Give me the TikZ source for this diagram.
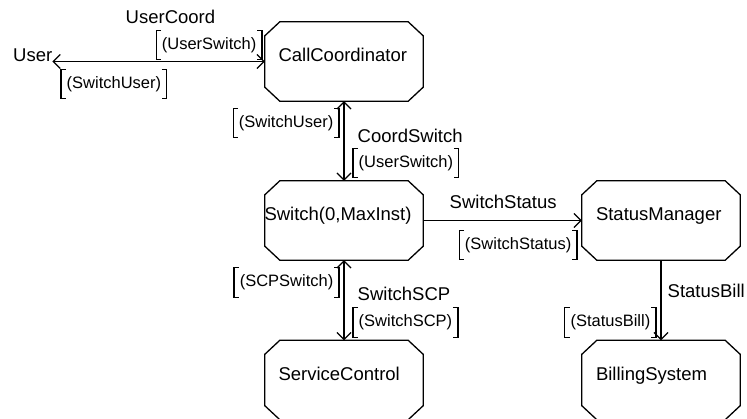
\documentclass[tikz,border=0pt]{standalone}
\usepackage{fontspec}
\setmainfont{Liberation Sans}
\usetikzlibrary{arrows.meta,calc}

\tikzset{
  box/.style={rectangle, draw=none, inner sep=0pt, minimum width=158pt, minimum height=79pt},
  boxline/.style={line width=1.3pt, line join=miter},
  title/.style={font=\fontsize{18.5}{22}\selectfont, inner sep=0pt, anchor=base west},
  chan/.style={font=\fontsize{18.5}{22}\selectfont, inner sep=0pt, anchor=base west},
  sig/.style={font=\fontsize{16.5}{20}\selectfont, inner xsep=5.5pt, inner ysep=0pt, minimum height=29pt},
  brk/.style={line width=1.2pt},
  conn/.style={line width=1.2pt},
  >={Straight Barb[length=7pt,width=14pt]},
}

% octagonal block outline around a box node
\newcommand\octbox[1]{%
  \draw[boxline] ([xshift=15pt]#1.north west) -- ([xshift=-15pt]#1.north east)
    -- ([yshift=-14pt]#1.north east) -- ([yshift=14pt]#1.south east)
    -- ([xshift=-15pt]#1.south east) -- ([xshift=15pt]#1.south west)
    -- ([yshift=14pt]#1.south west) -- ([yshift=-14pt]#1.north west) -- cycle;}

% square brackets around a signal list
\newcommand\sigbrackets[1]{%
  \draw[brk] ([xshift=5pt]#1.north west) -| (#1.south west) -- ([xshift=5pt]#1.south west);
  \draw[brk] ([xshift=-5pt]#1.north east) -| (#1.south east) -- ([xshift=-5pt]#1.south east);}

\begin{document}
\begin{tikzpicture}[x=1pt,y=-1pt]
\useasboundingbox (0,0) rectangle (747,418);

% blocks
\node[box] (cc) at (344,61.5) {};
\node[box] (sw) at (344,220.5) {};
\node[box] (sc) at (344,380) {};
\node[box] (sm) at (661,220.5) {};
\node[box] (bs) at (661,380) {};
\octbox{cc}\octbox{sw}\octbox{sc}\octbox{sm}\octbox{bs}

\node[title] (cc-t) at ([xshift=13.5pt,yshift=-40pt]cc.north west) {CallCoordinator};
\node[title] (sw-t) at ([xshift=-0.5pt,yshift=-40pt]sw.north west) {Switch(0,MaxInst)};
\node[title] (sc-t) at ([xshift=13.5pt,yshift=-40pt]sc.north west) {ServiceControl};
\node[title] (sm-t) at ([xshift=14pt,yshift=-40pt]sm.north west) {StatusManager};
\node[title] (bs-t) at ([xshift=14pt,yshift=-40pt]bs.north west) {BillingSystem};

% environment
\node[title] (user) at (13,61.5) {User};

% channels
\draw[conn,<->] (user.base east) -- (cc.west);
\draw[conn,<->] (cc.south) -- (sw.north);
\draw[conn,<->] (sw.south) -- (sc.north);
\draw[conn,->] (sw.east) -- (sm.west);
\draw[conn,->] (sm.south) -- (bs.north);

% channel names
\node[chan] (lUC) at (125.5,23) {UserCoord};
\node[chan] (lCS) at (357.5,142) {CoordSwitch};
\node[chan] (lSS) at (357.5,300) {SwitchSCP};
\node[chan] (lST) at (449.5,208.5) {SwitchStatus};
\node[chan] (lSB) at (667.5,297.5) {StatusBill};

% signal lists
\node[sig, anchor=east] (sUC1) at (262,45) {(UserSwitch)};
\node[sig, anchor=west] (sUC2) at (61,84) {(SwitchUser)};
\node[sig, anchor=east] (sCS1) at (339,123) {(SwitchUser)};
\node[sig, anchor=west] (sCS2) at (353,163) {(UserSwitch)};
\node[sig, anchor=east] (sSS1) at (339,282.5) {(SCPSwitch)};
\node[sig, anchor=west] (sSS2) at (353,322.5) {(SwitchSCP)};
\node[sig, anchor=east] (sST) at (577,245) {(SwitchStatus)};
\node[sig, anchor=east] (sSB) at (656,322.5) {(StatusBill)};
\sigbrackets{sUC1}\sigbrackets{sUC2}\sigbrackets{sCS1}\sigbrackets{sCS2}
\sigbrackets{sSS1}\sigbrackets{sSS2}\sigbrackets{sST}\sigbrackets{sSB}
\end{tikzpicture}
\end{document}
